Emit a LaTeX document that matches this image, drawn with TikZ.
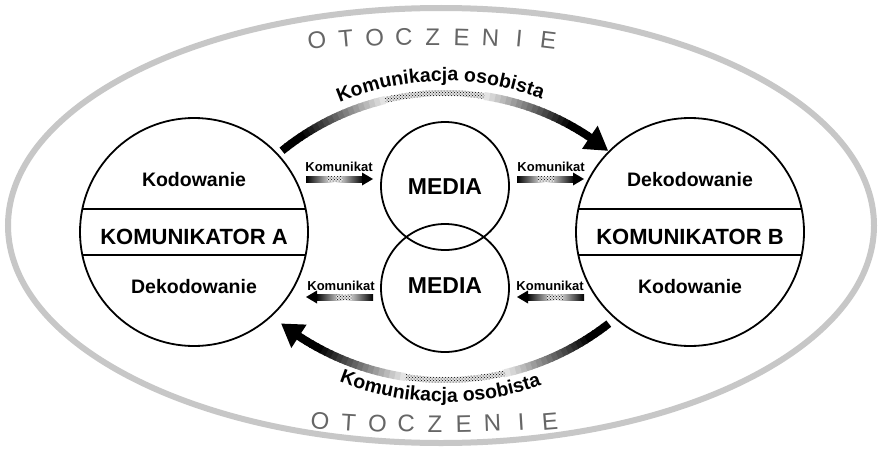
\documentclass[tikz,border=0pt]{standalone}
\usepackage{fontspec}
\setmainfont{Liberation Sans}
\usetikzlibrary{shapes.geometric,decorations.text,patterns,calc}
\newcommand\arcfont{\bfseries\fontsize{19.5}{21}\selectfont}
\begin{document}
\begin{tikzpicture}[x=1pt,y=1pt,
  ring/.style={circle,draw,line width=1.8pt,inner sep=0pt},
  lbl/.style={font=\bfseries\fontsize{19.5}{22}\selectfont,inner sep=0pt},
  namelbl/.style={font=\bfseries\fontsize{22}{24}\selectfont,inner sep=0pt},
  medialbl/.style={font=\bfseries\fontsize{23}{25}\selectfont,inner sep=0pt},
  komlbl/.style={font=\bfseries\fontsize{13}{14}\selectfont,inner sep=0pt},
  oto/.style={font=\fontsize{24}{26}\selectfont,text=black!60,inner sep=0pt},
  band/.style={line width=1.8pt},
  stipple/.style={pattern=crosshatch dots,pattern color=black}
]
\fill[white] (0,0) rectangle (882,451);
\useasboundingbox (0,0) rectangle (882,451);

% environment
\node[ellipse,draw=black!22,line width=6pt,minimum width=866pt,minimum height=435pt,inner sep=0pt] (env) at (441,225.5) {};

% communicators
\node[ring,minimum size=228pt] (A) at (194,219) {};
\node[ring,minimum size=228pt] (B) at (690,219) {};
\draw[band] ($(A.center)+(-111.7,23)$) -- ($(A.center)+(111.7,23)$);
\draw[band] ($(A.center)+(-111.7,-23)$) -- ($(A.center)+(111.7,-23)$);
\draw[band] ($(B.center)+(-111.7,23)$) -- ($(B.center)+(111.7,23)$);
\draw[band] ($(B.center)+(-111.7,-23)$) -- ($(B.center)+(111.7,-23)$);

\node[lbl] (Akod) at (194,271) {Kodowanie};
\node[namelbl] (Aname) at (194,214) {KOMUNIKATOR A};
\node[lbl] (Adek) at (194,164) {Dekodowanie};
\node[lbl] (Bdek) at (690,271) {Dekodowanie};
\node[namelbl] (Bname) at (690,214) {KOMUNIKATOR B};
\node[lbl] (Bkod) at (690,164) {Kodowanie};

% media
\node[ring,minimum size=128pt] (M1) at (445,265) {};
\node[ring,minimum size=128pt] (M2) at (445,163) {};
\node[medialbl] (M1t) at (445,264.5) {MEDIA};
\node[medialbl] (M2t) at (445,165.5) {MEDIA};

% small message arrows
\node[komlbl] (k1) at (339,284) {Komunikat};
\node[komlbl] (k2) at (551,284) {Komunikat};
\node[komlbl] (k3) at (341,165) {Komunikat};
\node[komlbl] (k4) at (550,165) {Komunikat};
\foreach \sx/\sy/\fl in {306/272/1, 517/272/1, 373/154/-1, 584/154/-1}{
  \begin{scope}[shift={(\sx,\sy)},xscale=\fl]
    \shade[left color=black,right color=black,middle color=white] (0,-3) rectangle (57,3);
    \fill[black!12] (21,-2.5) rectangle (37,2.5);
    \fill[stipple] (21,-2.5) rectangle (37,2.5);
    \fill (56,-6.5) -- (67,0) -- (56,6.5) -- cycle;
  \end{scope}
}

% personal communication arcs
\coordinate (TC) at (445,99);
\coordinate (BC) at (445,337);
\foreach \i in {0,...,59}{
  \pgfmathsetmacro\aa{129-\i*1.2233}
  \pgfmathsetmacro\ab{\aa-1.2233-0.3}
  \pgfmathsetmacro\pp{abs((\i+0.5)/30-1)}
  \pgfmathsetmacro\sh{\pp>0.3 ? min(100,8+92*(\pp-0.3)/0.55) : 0}
  \draw[line width=8pt,black!\sh] ($(TC)+(\aa:259)$) arc[start angle=\aa,end angle=\ab,radius=259];
}
\fill[black!12] ($(TC)+(103.3:256)$) arc[start angle=103.3,end angle=81.3,radius=256]
  -- ($(TC)+(81.3:262)$) arc[start angle=81.3,end angle=103.3,radius=262] -- cycle;
\fill[stipple] ($(TC)+(103.3:256)$) arc[start angle=103.3,end angle=81.3,radius=256]
  -- ($(TC)+(81.3:262)$) arc[start angle=81.3,end angle=103.3,radius=262] -- cycle;
\fill ($(TC)+(51:259)$) -- ($(TC)+(56:245)$) -- ($(TC)+(56:273)$) -- cycle;

\foreach \i in {0,...,59}{
  \pgfmathsetmacro\aa{-52-\i*1.1917}
  \pgfmathsetmacro\ab{\aa-1.1917-0.3}
  \pgfmathsetmacro\pp{abs((\i+0.5)/30-1)}
  \pgfmathsetmacro\sh{\pp>0.3 ? min(100,8+92*(\pp-0.3)/0.55) : 0}
  \draw[line width=8pt,black!\sh] ($(BC)+(\aa:266)$) arc[start angle=\aa,end angle=\ab,radius=266];
}
\fill[black!12] ($(BC)+(-77:263)$) arc[start angle=-77,end angle=-98.5,radius=263]
  -- ($(BC)+(-98.5:269)$) arc[start angle=-98.5,end angle=-77,radius=269] -- cycle;
\fill[stipple] ($(BC)+(-77:263)$) arc[start angle=-77,end angle=-98.5,radius=263]
  -- ($(BC)+(-98.5:269)$) arc[start angle=-98.5,end angle=-77,radius=269] -- cycle;
\fill ($(BC)+(-128:266)$) -- ($(BC)+(-123.3:252)$) -- ($(BC)+(-123.3:280)$) -- cycle;

\path[decorate,decoration={text along path,text align=center,
  text={|\arcfont|Komunikacja osobista}}]
  ($(TC)+(133:271)$) arc[start angle=133,end angle=49,radius=271];
\path[decorate,decoration={text along path,text align=center,
  text={|\arcfont|Komunikacja osobista}}]
  ($(BC)+(-134:288)$) arc[start angle=-134,end angle=-48,radius=288];

% OTOCZENIE labels
\foreach \ch [count=\i from 0] in {O,T,O,C,Z,E,N,I,E}{
  \pgfmathsetmacro\xx{317+28.9*\i}
  \pgfmathsetmacro\dx{\xx-433}
  \pgfmathsetmacro\yy{414-0.00025*\dx*\dx}
  \pgfmathsetmacro\rotO{-0.06*\dx}
  \node[oto,rotate=\rotO] (ot\i) at (\xx,\yy) {\ch};
}
\foreach \ch [count=\i from 0] in {O,T,O,C,Z,E,N,I,E}{
  \pgfmathsetmacro\xx{320+28.75*\i}
  \pgfmathsetmacro\dx{\xx-435}
  \pgfmathsetmacro\yy{27+0.0002*\dx*\dx}
  \pgfmathsetmacro\rotO{0.04*\dx}
  \node[oto,rotate=\rotO] (ob\i) at (\xx,\yy) {\ch};
}
\end{tikzpicture}
\end{document}
